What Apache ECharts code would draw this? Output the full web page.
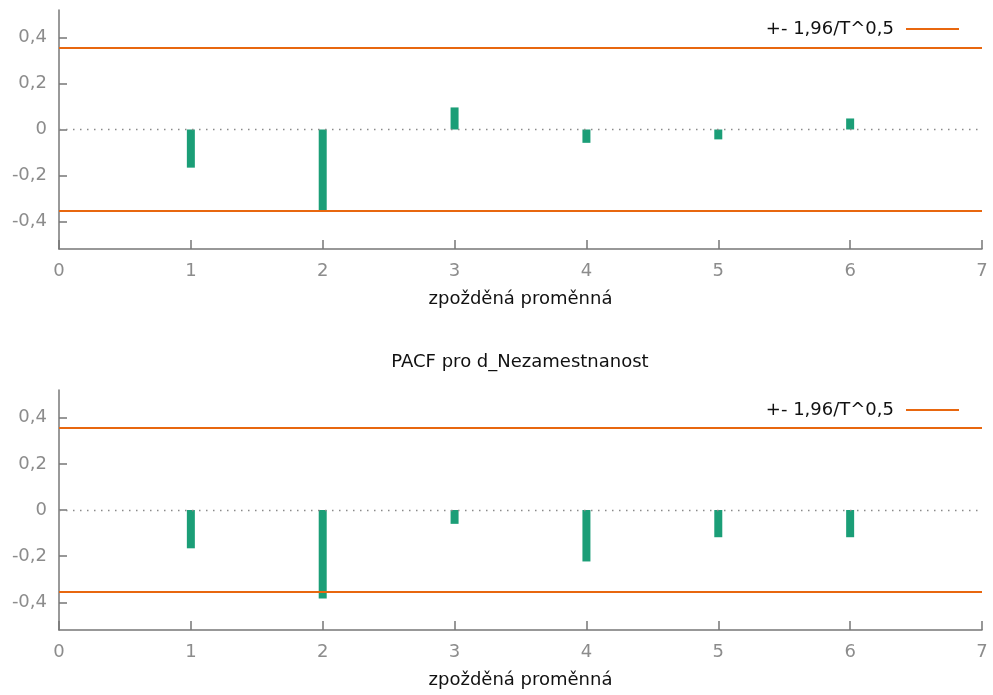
<!DOCTYPE html>
<html>
<head>
<meta charset="utf-8">
<script src="https://cdn.jsdelivr.net/npm/echarts@6/dist/echarts.min.js"></script>
<style>
  html, body { margin: 0; padding: 0; background: #fff; }
  #chart { width: 993px; height: 695px; }
</style>
</head>
<body>
<div id="chart"></div>
<script>
// ---- data ----
const lags = [1, 2, 3, 4, 5, 6];
const acfValues = [-0.166, -0.353, 0.096, -0.058, -0.043, 0.048];
const pacfValues = [-0.166, -0.384, -0.060, -0.223, -0.118, -0.118];
const bandValue = 0.355;               // +- 1,96/T^0,5
const yTicks = [-0.4, -0.2, 0, 0.2, 0.4];
const xTicks = [0, 1, 2, 3, 4, 5, 6, 7];
const bandName = '+- 1,96/T^0,5';
const xName = 'zpožděná proměnná';
const pacfTitle = 'PACF pro d_Nezamestnanost';

const FONT = 'DejaVu Sans';
const AXIS_COLOR = '#777777';
const LABEL_COLOR = '#8c8c8c';
const BAR_COLOR = '#1b9e77';
const BAND_COLOR = '#e8670f';

const fmtY = v => (Math.abs(v) < 1e-9 ? '0' : v.toFixed(1).replace('.', ','));

function xAxisFor(gridIndex) {
  return {
    gridIndex, type: 'value', min: 0, max: 7, interval: 1,
    name: xName, nameLocation: 'middle', nameGap: 50,
    nameTextStyle: { fontFamily: FONT, fontSize: 18, color: '#111', verticalAlign: 'middle' },
    axisLine: { show: true, onZero: false, lineStyle: { color: AXIS_COLOR, width: 1.5 } },
    axisTick: { show: true, inside: true, length: 9, lineStyle: { color: AXIS_COLOR, width: 1.5 } },
    axisLabel: { margin: 13, fontFamily: FONT, fontSize: 18, color: LABEL_COLOR,
                 customValues: xTicks },
    splitLine: { show: false }
  };
}
function yAxisFor(gridIndex) {
  return {
    gridIndex, type: 'value', min: -0.52, max: 0.52,
    axisLine: { show: true, onZero: false, lineStyle: { color: AXIS_COLOR, width: 1.5 } },
    axisTick: { show: true, inside: true, length: 8, customValues: yTicks,
                lineStyle: { color: AXIS_COLOR, width: 1.5 } },
    axisLabel: { margin: 12, fontFamily: FONT, fontSize: 18, color: LABEL_COLOR,
                 customValues: yTicks, formatter: fmtY },
    splitLine: { show: false }
  };
}
function barSeries(name, idx, values) {
  return {
    name, type: 'bar', xAxisIndex: idx, yAxisIndex: idx,
    data: lags.map((l, i) => [l, values[i]]),
    barWidth: 8,
    itemStyle: { color: BAR_COLOR },
    silent: true,
    markLine: {
      silent: true, symbol: 'none', label: { show: false },
      lineStyle: { color: '#8a8a8a', type: [1.5, 5.5], width: 1.4 },
      data: [{ yAxis: 0 }]
    }
  };
}
function bandSeries(idx, sign) {
  return {
    name: bandName, type: 'line', xAxisIndex: idx, yAxisIndex: idx,
    data: [[0, sign * bandValue], [7, sign * bandValue]],
    symbol: 'none', lineStyle: { color: BAND_COLOR, width: 2 },
    itemStyle: { color: BAND_COLOR }, silent: true, z: 3
  };
}
function legendFor(top) {
  return {
    data: [{ name: bandName, icon: 'rect' }], right: 34, top, padding: 0, orient: 'horizontal',
    align: 'right', itemWidth: 53, itemHeight: 2, selectedMode: false,
    itemStyle: { color: BAND_COLOR },
    textStyle: { fontFamily: FONT, fontSize: 18, color: '#111', padding: [0, 7, 0, 0] }
  };
}

const chart = echarts.init(document.getElementById('chart'), null, { renderer: 'canvas' });
chart.setOption({
  animation: false,
  backgroundColor: '#fff',
  title: {
    text: pacfTitle, left: 520, top: 353, textAlign: 'center', padding: 0,
    textStyle: { fontFamily: FONT, fontSize: 18, fontWeight: 'normal', color: '#111' }
  },
  legend: [legendFor(20), legendFor(401)],
  grid: [
    { left: 59, right: 11, top: 10, height: 239 },
    { left: 59, right: 11, top: 390, height: 240 }
  ],
  xAxis: [xAxisFor(0), xAxisFor(1)],
  yAxis: [yAxisFor(0), yAxisFor(1)],
  series: [
    barSeries('ACF', 0, acfValues),
    bandSeries(0, 1), bandSeries(0, -1),
    barSeries('PACF', 1, pacfValues),
    bandSeries(1, 1), bandSeries(1, -1)
  ]
});
</script>
</body>
</html>
